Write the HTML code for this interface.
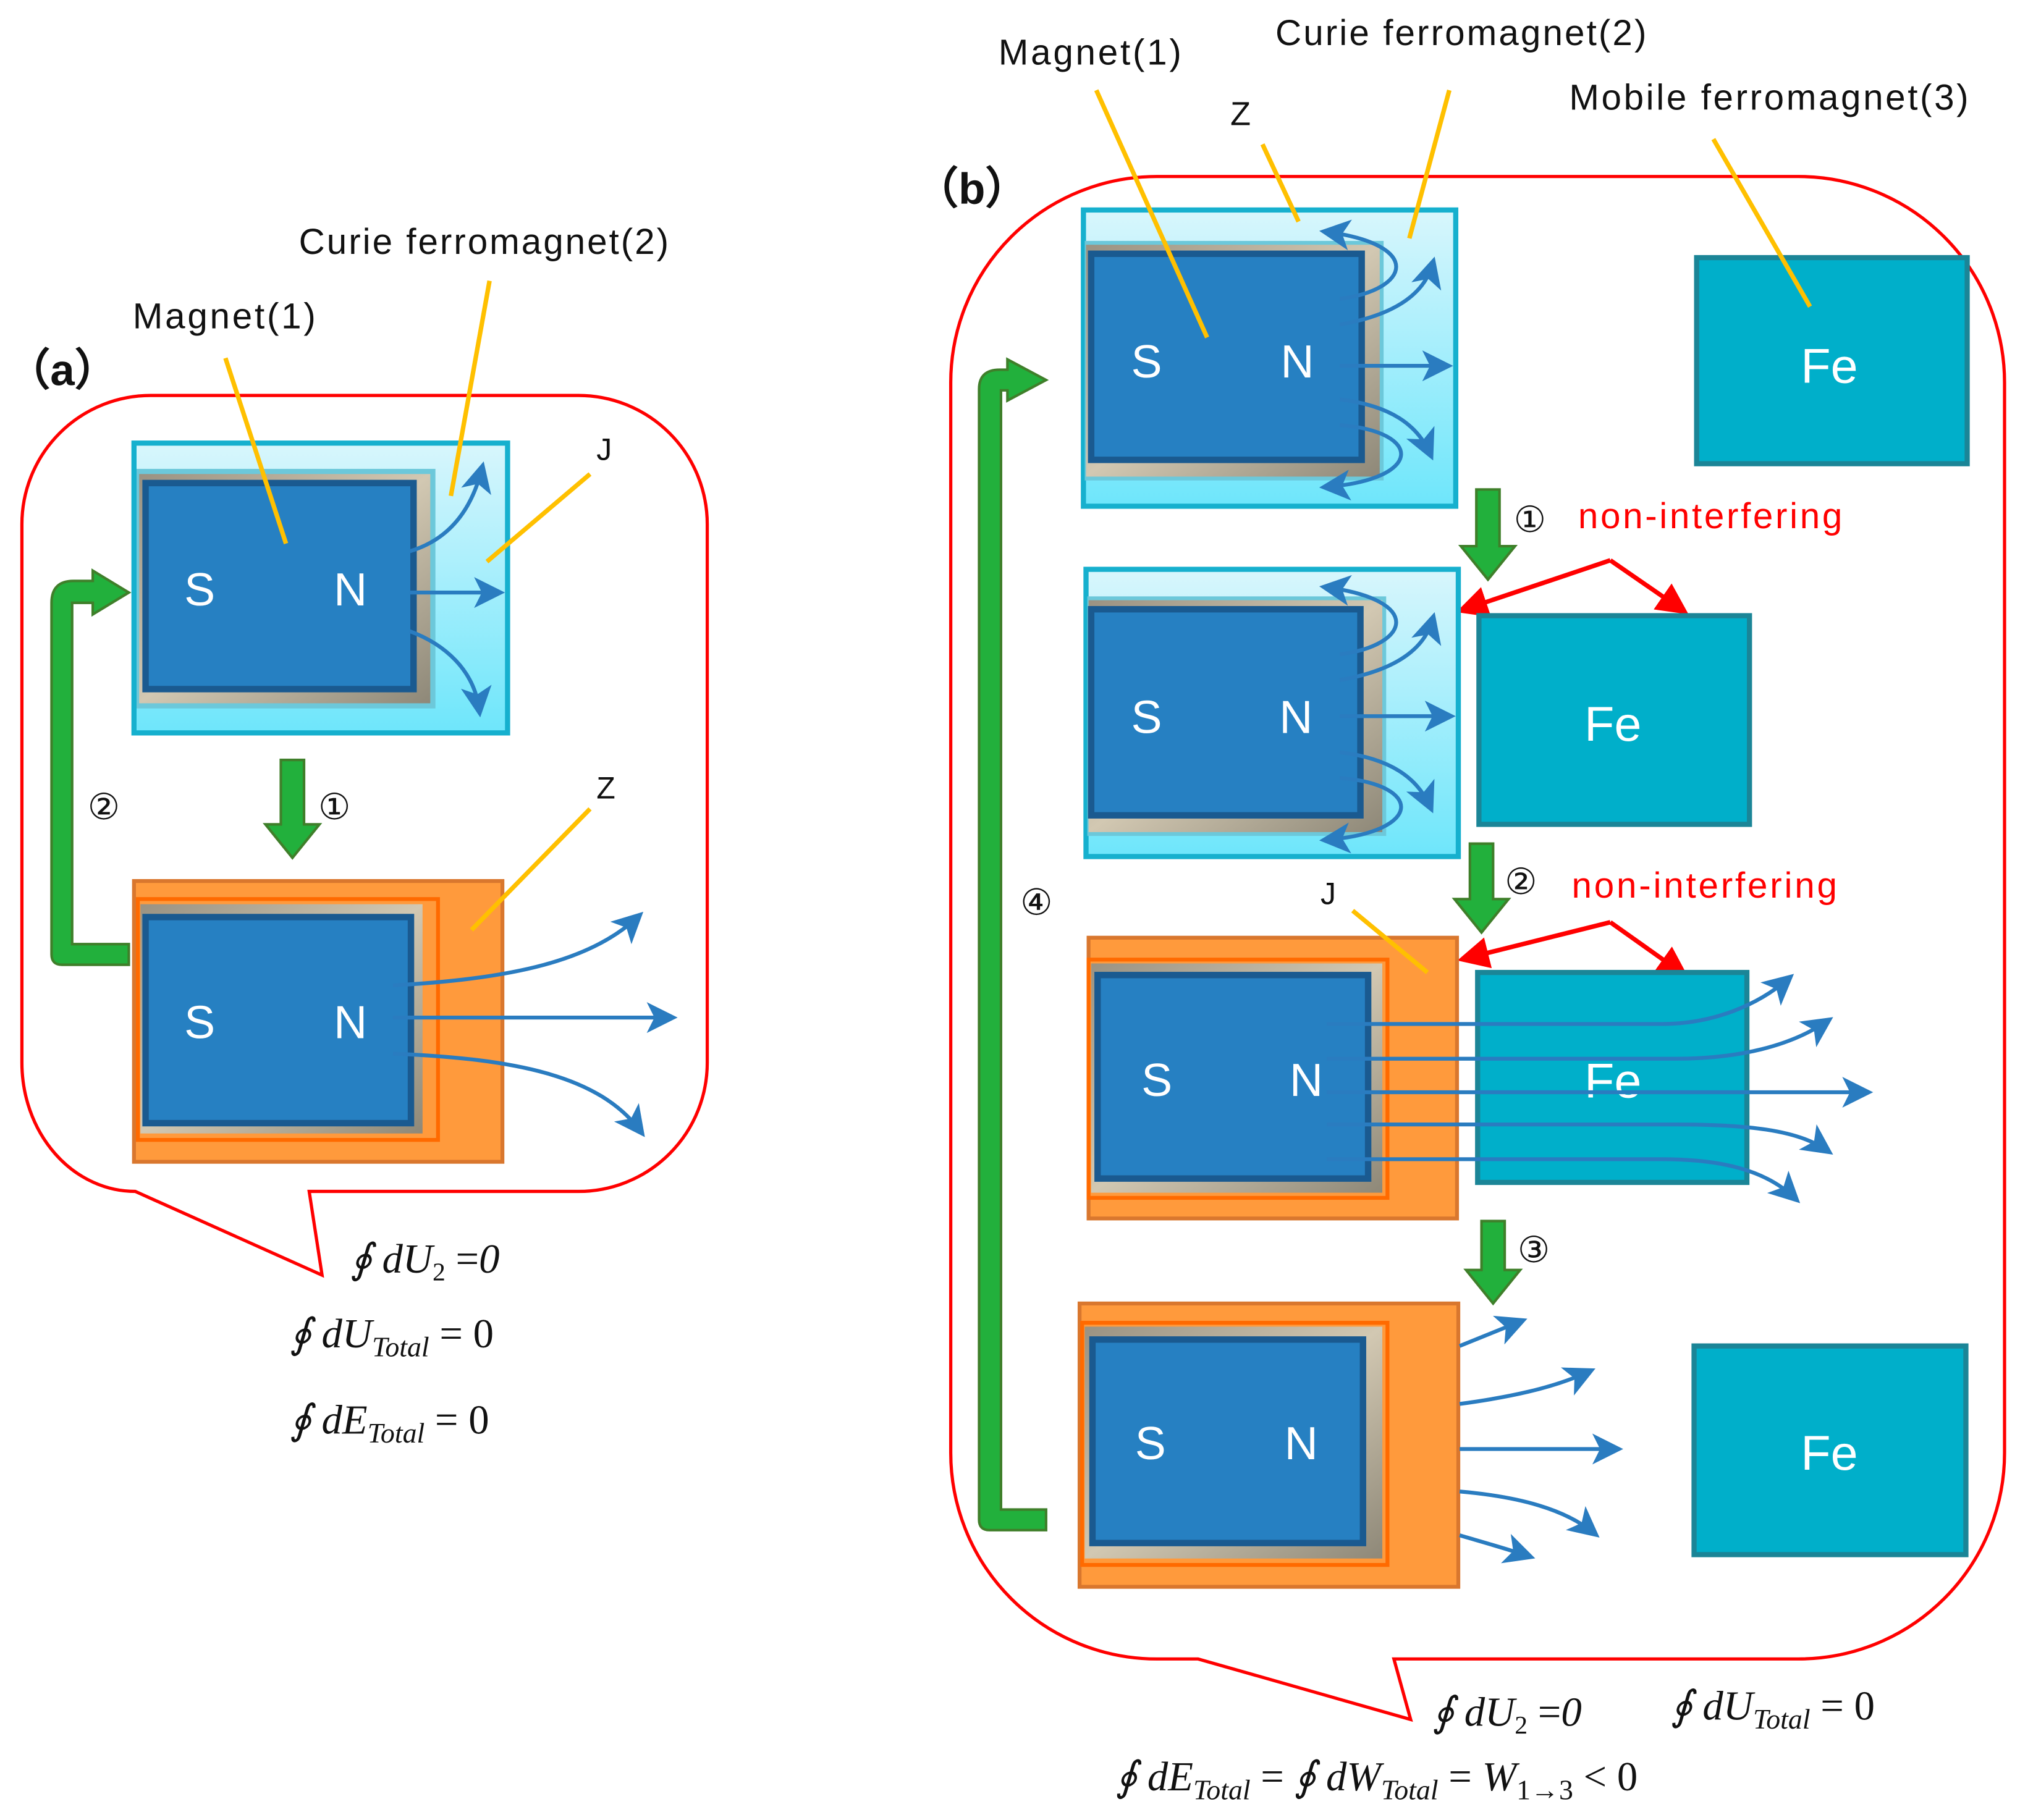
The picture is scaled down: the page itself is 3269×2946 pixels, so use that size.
<!DOCTYPE html>
<html><head><meta charset="utf-8"><style>
html,body{margin:0;padding:0;background:#fff}
svg{display:block}
.lb{font-family:"Liberation Sans",sans-serif;font-size:28px;fill:#111}
.sn{font-family:"Liberation Sans",sans-serif;font-size:36px;fill:#fff}
.fe{font-family:"Liberation Sans",sans-serif;font-size:38px;fill:#fff}
.red{font-family:"Liberation Sans",sans-serif;font-size:28px;fill:#f00}
.fm{font-family:"Liberation Serif",serif;font-size:32px;fill:#111}
.ci{font-family:"DejaVu Sans",sans-serif;font-size:28px;fill:#111}
.y{stroke:#FFC000;stroke-width:3.5;fill:none}
.bl{stroke:#2A7CC0;stroke-width:3;fill:none;marker-end:url(#ah)}
.fr{fill:url(#gr)}
.mg{fill:#2680C2;stroke:#1A5A90;stroke-width:5}
.lbx{fill:url(#lbg);stroke:#16B0CE;stroke-width:4}
.or{fill:#FF9A3C;stroke:#D9772E;stroke-width:3}
.ori{fill:#FF9A3C;stroke:#FF6A00;stroke-width:3}
.fb{fill:#00AFCA;stroke:#1B8597;stroke-width:4}
.gr{fill:#22B03C;stroke:#3F7F2A;stroke-width:2}
.ra{stroke:#f00;stroke-width:3.5;fill:none;marker-end:url(#rh)}
</style></head><body>
<svg width="3269" height="2946" viewBox="0 0 1568 1413" xmlns="http://www.w3.org/2000/svg">
<defs>
<marker id="ah" markerWidth="8" markerHeight="8" refX="6" refY="4" orient="auto" markerUnits="strokeWidth"><path d="M0,0 L8,4 L0,8 L2,4z" fill="#2A7CC0"/></marker>
<marker id="rh" markerWidth="7" markerHeight="7" refX="5" refY="3.5" orient="auto" markerUnits="strokeWidth"><path d="M0,0 L7,3.5 L0,7z" fill="#f00"/></marker>
<linearGradient id="gr" x1="0" y1="0" x2="1" y2="1"><stop offset="0" stop-color="#9A9282"/><stop offset="0.5" stop-color="#D2C8B2"/><stop offset="1" stop-color="#8E8878"/></linearGradient>
<linearGradient id="lbg" x1="0" y1="0" x2="0" y2="1"><stop offset="0" stop-color="#D8F6FC"/><stop offset="1" stop-color="#6EE6FB"/></linearGradient>
</defs>

<!-- panel a -->
<path d="M117,307 H449 A100,100 0 0 1 549,407 V825 A100,100 0 0 1 449,925 H240 L250,990 L105,925 A88,100 0 0 1 17,825 V407 A100,100 0 0 1 117,307z" fill="none" stroke="#f00" stroke-width="2.5"/>
<text x="5" y="299" class="lb" style="font-size:34px;font-weight:bold">（a）</text>
<text x="103" y="255" class="lb" textLength="142">Magnet(1)</text>
<text x="232" y="197" class="lb" textLength="287">Curie ferromagnet(2)</text>
<text x="463" y="357" class="lb" style="font-size:24px">J</text>
<text x="463" y="620" class="lb" style="font-size:24px">Z</text>

<rect x="104" y="344" width="290" height="225" class="lbx"/>
<rect x="106" y="364" width="232" height="186" fill="#6CC8DA"/>
<rect x="108" y="368" width="226" height="178" class="fr"/>
<rect x="113" y="375" width="208" height="160" class="mg"/>
<text x="155" y="470" class="sn" text-anchor="middle">S</text>
<text x="272" y="470" class="sn" text-anchor="middle">N</text>
<path d="M318,428 C345,420 365,400 374,364" class="bl"/>
<path d="M318,460 H386" class="bl"/>
<path d="M318,490 C345,500 368,520 372,551" class="bl"/>

<path d="M218,590 H236 V640 H248 L227,666 L206,640 H218z" class="gr"/>
<text x="247" y="636" class="ci">①</text>
<text x="68" y="636" class="ci">②</text>
<path d="M100,733 V749 H48 Q40,749 40,741 V468 Q40,451 57,451 H72 V443 L100,460 L72,477 V468 H56 V733z" class="gr"/>

<rect x="104" y="684" width="286" height="218" class="or"/>
<rect x="107" y="698" width="233" height="187" class="ori"/>
<rect x="109" y="702" width="219" height="178" class="fr"/>
<rect x="113" y="712" width="206" height="160" class="mg"/>
<text x="155" y="806" class="sn" text-anchor="middle">S</text>
<text x="272" y="806" class="sn" text-anchor="middle">N</text>
<path d="M305,765 C400,760 460,745 495,712" class="bl"/>
<path d="M305,790 H520" class="bl"/>
<path d="M305,818 C400,822 465,835 497,878" class="bl"/>

<path d="M175,278 L222,422" class="y"/>
<path d="M380,218 L350,385" class="y"/>
<path d="M458,368 L378,436" class="y"/>
<path d="M458,628 L366,722" class="y"/>

<text x="272" y="988" class="fm"><tspan font-style="italic">∮ dU</tspan><tspan font-size="20" dy="6">2</tspan><tspan dy="-6"> =</tspan><tspan font-style="italic">0</tspan></text>
<text x="225" y="1046" class="fm"><tspan font-style="italic">∮ dU</tspan><tspan font-size="22" dy="7" font-style="italic">Total</tspan><tspan dy="-7"> = 0</tspan></text>
<text x="225" y="1113" class="fm"><tspan font-style="italic">∮ dE</tspan><tspan font-size="22" dy="7" font-style="italic">Total</tspan><tspan dy="-7"> = 0</tspan></text>

<!-- panel b -->
<path d="M898,137 H1396 A160,160 0 0 1 1556,297 V1128 A160,160 0 0 1 1396,1288 H1082 L1095,1335 L930,1288 H898 A160,160 0 0 1 738,1128 V297 A160,160 0 0 1 898,137z" fill="none" stroke="#f00" stroke-width="2.5"/>
<text x="710" y="158" class="lb" style="font-size:34px;font-weight:bold">（b）</text>
<text x="775" y="50" class="lb" textLength="142">Magnet(1)</text>
<text x="990" y="35" class="lb" textLength="288">Curie ferromagnet(2)</text>
<text x="955" y="97" class="lb" style="font-size:26px">Z</text>
<text x="1218" y="85" class="lb" textLength="310">Mobile ferromagnet(3)</text>
<text x="1025" y="702" class="lb" style="font-size:24px">J</text>

<!-- box1 -->
<rect x="841" y="163" width="289" height="230" class="lbx"/>
<rect x="842" y="187" width="232" height="186" fill="#6CC8DA"/>
<rect x="843" y="190" width="228" height="180" class="fr"/>
<rect x="847" y="197" width="210" height="160" class="mg"/>
<text x="890" y="293" class="sn" text-anchor="middle">S</text>
<text x="1007" y="293" class="sn" text-anchor="middle">N</text>
<path d="M1040,232 C1095,225 1105,190 1030,180" class="bl"/>
<path d="M1040,252 C1080,245 1105,230 1112,205" class="bl"/>
<path d="M1040,284 H1122" class="bl"/>
<path d="M1040,310 C1080,315 1100,330 1110,352" class="bl"/>
<path d="M1040,330 C1105,335 1105,372 1030,378" class="bl"/>
<rect x="1317" y="200" width="210" height="160" class="fb"/>
<text x="1420" y="297" class="fe" text-anchor="middle">Fe</text>
<path d="M851,70 L937,262" class="y"/>
<path d="M980,112 L1008,172" class="y"/>
<path d="M1125,70 L1094,185" class="y"/>
<path d="M1330,108 L1405,238" class="y"/>

<path d="M1146,380 H1164 V424 H1176 L1155,450 L1134,424 H1146z" class="gr"/>
<text x="1175" y="413" class="ci">①</text>
<text x="1225" y="410" class="red" textLength="205">non-interfering</text>
<path d="M1250,435 L1137,473" class="ra"/>
<path d="M1250,435 L1305,473" class="ra"/>

<!-- box2 -->
<rect x="843" y="442" width="289" height="223" class="lbx"/>
<rect x="844" y="463" width="232" height="186" fill="#6CC8DA"/>
<rect x="845" y="466" width="228" height="180" class="fr"/>
<rect x="847" y="473" width="209" height="160" class="mg"/>
<text x="890" y="569" class="sn" text-anchor="middle">S</text>
<text x="1006" y="569" class="sn" text-anchor="middle">N</text>
<path d="M1040,508 C1095,501 1105,466 1030,456" class="bl"/>
<path d="M1040,528 C1080,521 1105,506 1112,481" class="bl"/>
<path d="M1040,556 H1124" class="bl"/>
<path d="M1040,584 C1080,589 1100,604 1110,626" class="bl"/>
<path d="M1040,604 C1105,609 1105,646 1030,652" class="bl"/>
<rect x="1148" y="478" width="210" height="162" class="fb"/>
<text x="1252" y="575" class="fe" text-anchor="middle">Fe</text>

<path d="M1141,655 H1159 V698 H1171 L1150,724 L1129,698 H1141z" class="gr"/>
<text x="1168" y="694" class="ci">②</text>
<text x="1220" y="697" class="red" textLength="206">non-interfering</text>
<path d="M1250,716 L1138,744" class="ra"/>
<path d="M1250,716 L1305,755" class="ra"/>

<!-- box3 -->
<rect x="1147" y="755" width="209" height="163" class="fb"/>
<text x="1252" y="852" class="fe" text-anchor="middle">Fe</text>
<rect x="845" y="728" width="286" height="218" class="or"/>
<rect x="845" y="745" width="232" height="185" class="ori"/>
<rect x="847" y="748" width="226" height="178" class="fr"/>
<rect x="852" y="757" width="210" height="158" class="mg"/>
<text x="898" y="851" class="sn" text-anchor="middle">S</text>
<text x="1014" y="851" class="sn" text-anchor="middle">N</text>
<path d="M1030,795 H1290 C1330,795 1365,780 1388,760" class="bl"/>
<path d="M1030,822 H1300 C1350,822 1390,812 1418,793" class="bl"/>
<path d="M1030,848 H1448" class="bl"/>
<path d="M1030,873 H1300 C1355,873 1395,877 1418,893" class="bl"/>
<path d="M1030,900 H1290 C1335,900 1370,908 1393,930" class="bl"/>
<path d="M1050,707 L1108,755" class="y"/>

<path d="M1150,948 H1168 V986 H1180 L1159,1012 L1138,986 H1150z" class="gr"/>
<text x="1178" y="980" class="ci">③</text>

<!-- box4 -->
<rect x="838" y="1012" width="294" height="220" class="or"/>
<rect x="840" y="1027" width="237" height="188" class="ori"/>
<rect x="842" y="1030" width="231" height="180" class="fr"/>
<rect x="848" y="1040" width="210" height="158" class="mg"/>
<text x="893" y="1133" class="sn" text-anchor="middle">S</text>
<text x="1010" y="1133" class="sn" text-anchor="middle">N</text>
<path d="M1133,1045 C1150,1038 1165,1032 1180,1026" class="bl"/>
<path d="M1133,1090 C1170,1085 1205,1078 1233,1065" class="bl"/>
<path d="M1133,1125 H1254" class="bl"/>
<path d="M1133,1158 C1180,1162 1215,1172 1237,1190" class="bl"/>
<path d="M1133,1192 C1150,1197 1168,1202 1186,1208" class="bl"/>
<rect x="1315" y="1045" width="211" height="162" class="fb"/>
<text x="1420" y="1141" class="fe" text-anchor="middle">Fe</text>

<!-- big green 4 -->
<path d="M812,1172 V1188 H768 Q760,1188 760,1180 V302 Q760,287 776,287 H782 V279 L812,295 L782,311 V303 H777 V1172z" class="gr"/>
<text x="792" y="710" class="ci">④</text>

<text x="1112" y="1340" class="fm"><tspan font-style="italic">∮ dU</tspan><tspan font-size="20" dy="6">2</tspan><tspan dy="-6"> =</tspan><tspan font-style="italic">0</tspan></text>
<text x="1297" y="1335" class="fm"><tspan font-style="italic">∮ dU</tspan><tspan font-size="22" dy="7" font-style="italic">Total</tspan><tspan dy="-7"> = 0</tspan></text>
<text x="866" y="1390" class="fm"><tspan font-style="italic">∮ dE</tspan><tspan font-size="22" dy="7" font-style="italic">Total</tspan><tspan dy="-7"> = </tspan><tspan font-style="italic">∮ dW</tspan><tspan font-size="22" dy="7" font-style="italic">Total</tspan><tspan dy="-7"> = </tspan><tspan font-style="italic">W</tspan><tspan font-size="22" dy="7">1→3</tspan><tspan dy="-7"> &lt; 0</tspan></text>
</svg>
</body></html>
